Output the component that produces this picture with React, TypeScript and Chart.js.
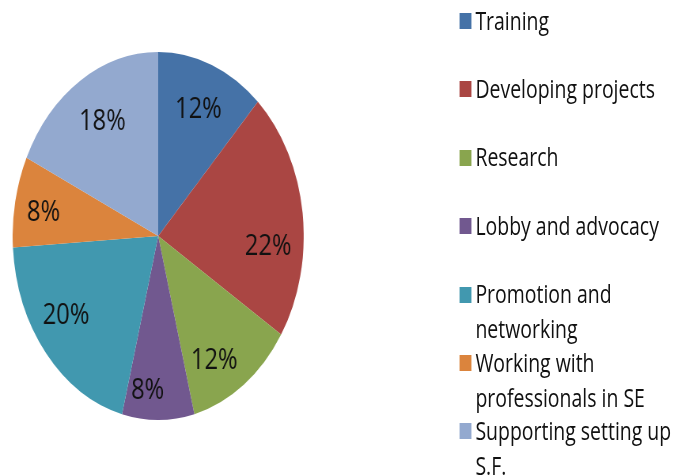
import React, { useEffect, useRef } from "react";
import { Chart, registerables } from "chart.js";

Chart.register(...registerables);

const categories = [
  "Training",
  "Developing projects",
  "Research",
  "Lobby and advocacy",
  "Promotion and networking",
  "Working with professionals in SE",
  "Supporting setting up S.F.",
];
const shares = [12, 22, 12, 8, 20, 8, 18];
const colors = ["#4572A7", "#AA4643", "#89A54E", "#71588F", "#4198AF", "#DB843D", "#93A9CF"];

const SX = 0.791;
const FONT = "'Open Sans', sans-serif";

// label placement style (best-fit nudges: degrees of rotation, fraction of radius)
const LABEL_ANGLE_NUDGE = [0, 10.7, 6, 5, 6, -0.7, 1.2];
const LABEL_RADIUS_FRAC = [0.75, 0.757, 0.77, 0.83, 0.76, 0.8, 0.74];

export default function App() {
  const ref = useRef<HTMLCanvasElement>(null);

  useEffect(() => {
    if (!ref.current) return;
    const labelPlugin = {
      id: "sliceLabels",
      afterDatasetsDraw(chart: any) {
        const ctx = chart.ctx;
        const meta = chart.getDatasetMeta(0);
        const fs = 30;
        ctx.save();
        ctx.font = `${fs}px ${FONT}`;
        ctx.fillStyle = "#111111";
        ctx.textAlign = "center";
        ctx.textBaseline = "alphabetic";
        meta.data.forEach((arc: any, i: number) => {
          const p = arc.getProps(["x", "y", "startAngle", "endAngle", "outerRadius"], true);
          const mid = (p.startAngle + p.endAngle) / 2 + ((LABEL_ANGLE_NUDGE[i] || 0) * Math.PI) / 180;
          const f = LABEL_RADIUS_FRAC[i] || 0.76;
          const lx = p.x + Math.cos(mid) * p.outerRadius * f;
          const ly = p.y + Math.sin(mid) * p.outerRadius * f;
          ctx.fillText(`${shares[i]}%`, lx, ly + fs * 0.357);
        });
        ctx.restore();
      },
    };
    const chart = new Chart(ref.current, {
      type: "pie",
      data: {
        labels: categories,
        datasets: [
          {
            data: shares,
            backgroundColor: colors,
            borderWidth: 0,
          },
        ],
      },
      options: {
        responsive: true,
        maintainAspectRatio: false,
        animation: false,
        layout: { padding: 0 },
        plugins: {
          legend: { display: false },
          tooltip: { enabled: false },
        },
      },
      plugins: [labelPlugin],
    });
    return () => chart.destroy();
  }, []);

  const step = 68.4;
  const lineH = 35;

  return (
    <div
      style={{
        position: "fixed",
        left: 0,
        top: 0,
        width: 679,
        height: 476,
        overflow: "hidden",
        background: "#ffffff",
      }}
    >
      <div
        style={{
          position: "absolute",
          left: 0,
          top: 0,
          width: 860,
          height: 476,
          transform: `scaleX(${SX})`,
          transformOrigin: "0 0",
        }}
      >
        <div style={{ position: "absolute", left: 16, top: 52, width: 368, height: 368 }}>
          <canvas ref={ref} />
        </div>
        {categories.map((c, i) => {
          const capCenter = 21 + i * step;
          return (
            <div key={c}>
              <div
                style={{
                  position: "absolute",
                  left: 581,
                  top: capCenter - 8,
                  width: 15,
                  height: 16,
                  background: colors[i],
                }}
              />
              <div
                style={{
                  position: "absolute",
                  left: 601,
                  top: capCenter - 18.5,
                  width: 258,
                  font: `24.6px ${FONT}`,
                  lineHeight: `${lineH}px`,
                  color: "#111111",
                }}
              >
                {c}
              </div>
            </div>
          );
        })}
      </div>
    </div>
  );
}
